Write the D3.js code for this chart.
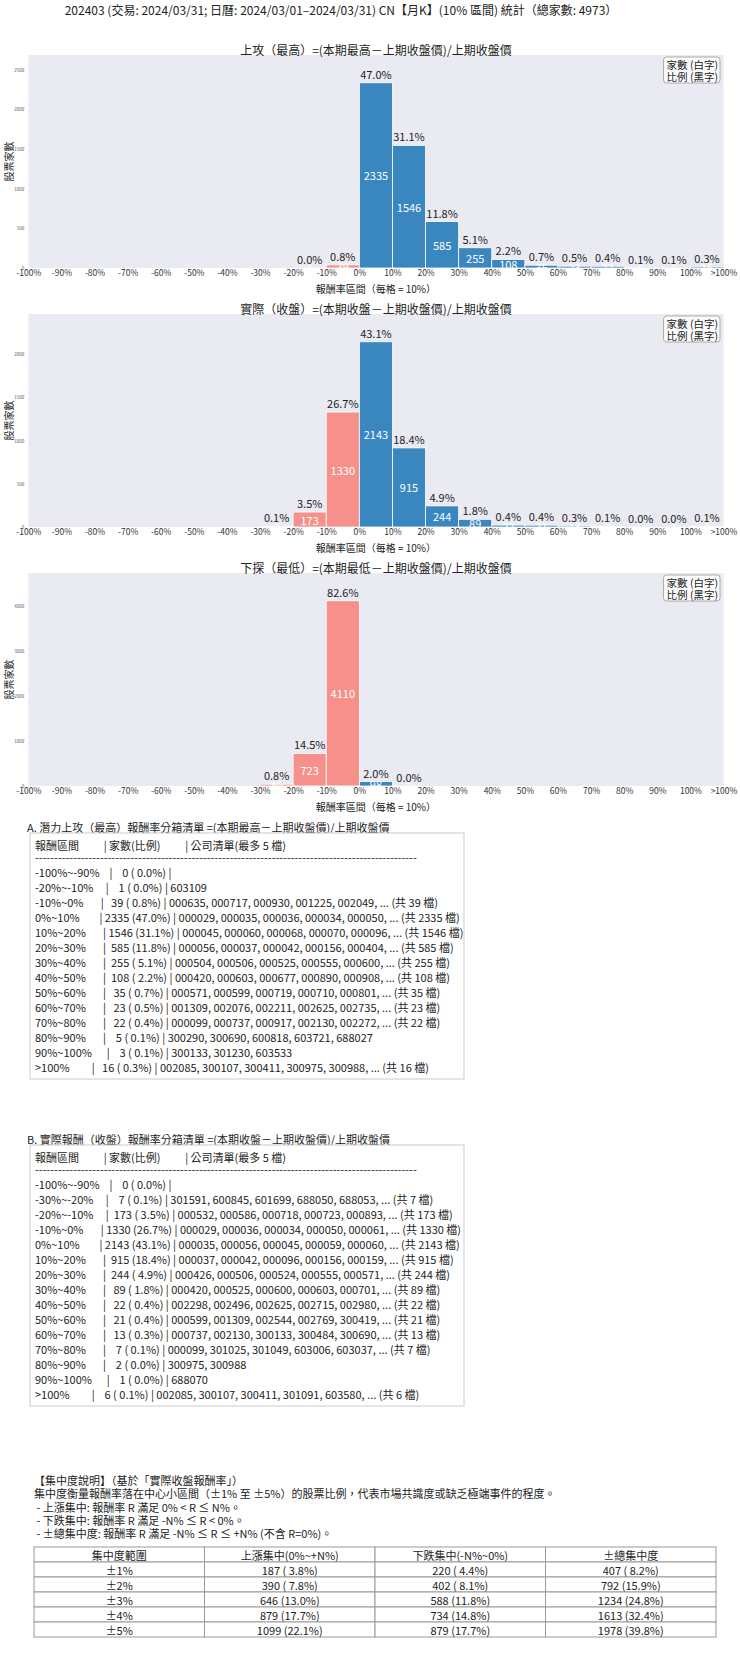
<!DOCTYPE html>
<html>
<head>
<meta charset="utf-8">
<script src="https://cdn.jsdelivr.net/npm/d3@7"></script>
<style>
body { margin: 0; background: #fff; }
text { font-family: "Noto Sans CJK TC", "Noto Sans CJK SC", sans-serif; }
</style>
</head>
<body>
<div id="chart"></div>
<script>
const total = 4973;
const suptitle = "202403 (交易: 2024/03/31; 日曆: 2024/03/01–2024/03/31) CN【月K】(10% 區間) 統計（總家數: 4973）";

const binLabels = ["-100%~-90%", "-90%~-80%", "-80%~-70%", "-70%~-60%", "-60%~-50%", "-50%~-40%",
  "-40%~-30%", "-30%~-20%", "-20%~-10%", "-10%~0%", "0%~10%", "10%~20%", "20%~30%", "30%~40%",
  "40%~50%", "50%~60%", "60%~70%", "70%~80%", "80%~90%", "90%~100%", ">100%"];
const tickLabels = ["-100%", "-90%", "-80%", "-70%", "-60%", "-50%", "-40%", "-30%", "-20%", "-10%",
  "0%", "10%", "20%", "30%", "40%", "50%", "60%", "70%", "80%", "90%", "100%", ">100%"];

const highCounts  = [0, 0, 0, 0, 0, 0, 0, 0, 1, 39, 2335, 1546, 585, 255, 108, 35, 23, 22, 5, 3, 16];
const closeCounts = [0, 0, 0, 0, 0, 0, 0, 7, 173, 1330, 2143, 915, 244, 89, 22, 21, 13, 7, 2, 1, 6];
const lowCounts   = [0, 0, 0, 0, 0, 0, 0, 40, 723, 4110, 98, 2, 0, 0, 0, 0, 0, 0, 0, 0, 0];

const highCodes = [[], [], [], [], [], [], [], [],
  ["603109"],
  ["000635", "000717", "000930", "001225", "002049"],
  ["000029", "000035", "000036", "000034", "000050"],
  ["000045", "000060", "000068", "000070", "000096"],
  ["000056", "000037", "000042", "000156", "000404"],
  ["000504", "000506", "000525", "000555", "000600"],
  ["000420", "000603", "000677", "000890", "000908"],
  ["000571", "000599", "000719", "000710", "000801"],
  ["001309", "002076", "002211", "002625", "002735"],
  ["000099", "000737", "000917", "002130", "002272"],
  ["300290", "300690", "600818", "603721", "688027"],
  ["300133", "301230", "603533"],
  ["002085", "300107", "300411", "300975", "300988"]];

const closeCodes = [[], [], [], [], [], [], [],
  ["301591", "600845", "601699", "688050", "688053"],
  ["000532", "000586", "000718", "000723", "000893"],
  ["000029", "000036", "000034", "000050", "000061"],
  ["000035", "000056", "000045", "000059", "000060"],
  ["000037", "000042", "000096", "000156", "000159"],
  ["000426", "000506", "000524", "000555", "000571"],
  ["000420", "000525", "000600", "000603", "000701"],
  ["002298", "002496", "002625", "002715", "002980"],
  ["000599", "001309", "002544", "002769", "300419"],
  ["000737", "002130", "300133", "300484", "300690"],
  ["000099", "301025", "301049", "603006", "603037"],
  ["300975", "300988"],
  ["688070"],
  ["002085", "300107", "300411", "301091", "603580"]];

const concRanges = ["±1%", "±2%", "±3%", "±4%", "±5%"];
const concUp    = [187, 390, 646, 879, 1099];
const concDown  = [220, 402, 588, 734, 879];
const concTotal = [407, 792, 1234, 1613, 1978];
const concHeader = ["集中度範圍", "上漲集中(0%~+N%)", "下跌集中(-N%~0%)", "±總集中度"];
const concNotes = [
  "【集中度說明】（基於「實際收盤報酬率」）",
  "集中度衡量報酬率落在中心小區間（±1% 至 ±5%）的股票比例，代表市場共識度或缺乏極端事件的程度。",
  " - 上漲集中: 報酬率 R 滿足 0% < R ≤ N%。",
  " - 下跌集中: 報酬率 R 滿足 -N% ≤ R < 0%。",
  " - ±總集中度: 報酬率 R 滿足 -N% ≤ R ≤ +N% (不含 R=0%)。"
];

const panels = [
  {title: "上攻（最高）=(本期最高－上期收盤價)/上期收盤價", counts: highCounts, top: 55},
  {title: "實際（收盤）=(本期收盤－上期收盤價)/上期收盤價", counts: closeCounts, top: 314},
  {title: "下探（最低）=(本期最低－上期收盤價)/上期收盤價", counts: lowCounts, top: 573}
];

const width = 740, height = 1660;
const plotL = 28.3, plotR = 723.5, plotH = 213;
const blue = "#3a86bf", red = "#f5918a";
const pct = c => (c / total * 100).toFixed(1);

const svg = d3.select("#chart").append("svg")
  .attr("width", width)
  .attr("height", height);

svg.append("text")
  .attr("x", 341).attr("y", 9)
  .attr("text-anchor", "middle").attr("dominant-baseline", "central")
  .attr("font-size", 12).attr("fill", "#222")
  .text(suptitle);

const xBand = d3.scaleBand().domain(binLabels).range([plotL, plotR]).padding(0);
const xEdge = d3.scaleLinear().domain([0, binLabels.length]).range([plotL, plotR]);

panels.forEach((p, pi) => {
  const base = p.top + plotH;
  const y = d3.scaleLinear().domain([0, d3.max(p.counts) * 1.15]).range([base, p.top]);
  const g = svg.append("g");

  g.append("rect")
    .attr("x", plotL).attr("y", p.top)
    .attr("width", plotR - plotL).attr("height", plotH)
    .attr("fill", "#eaeaf2");

  const clipId = "clip" + pi;
  g.append("clipPath").attr("id", clipId)
    .append("rect")
    .attr("x", plotL).attr("y", p.top)
    .attr("width", plotR - plotL).attr("height", plotH);

  g.append("text")
    .attr("x", (plotL + plotR) / 2).attr("y", p.top - 6)
    .attr("text-anchor", "middle").attr("dominant-baseline", "central")
    .attr("font-size", 12).attr("fill", "#222")
    .text(p.title);

  const data = p.counts.map((c, i) => ({bin: binLabels[i], c: c, i: i}));

  g.selectAll(".bar").data(data).join("rect")
    .attr("class", "bar")
    .attr("x", d => xBand(d.bin))
    .attr("y", d => y(d.c))
    .attr("width", xBand.bandwidth())
    .attr("height", d => base - y(d.c))
    .attr("fill", d => d.i < 10 ? red : blue)
    .attr("stroke", "#fff")
    .attr("stroke-width", 0.8);

  const nz = data.filter(d => d.c > 0);

  g.append("g").attr("clip-path", `url(#${clipId})`)
    .selectAll("text").data(nz).join("text")
    .attr("x", d => xBand(d.bin) + xBand.bandwidth() / 2)
    .attr("y", d => y(d.c / 2))
    .attr("text-anchor", "middle").attr("dominant-baseline", "central")
    .attr("font-size", 11).attr("fill", "#fff")
    .text(d => d.c);

  g.selectAll(".pct").data(nz).join("text")
    .attr("class", "pct")
    .attr("x", d => xBand(d.bin) + xBand.bandwidth() / 2)
    .attr("y", d => y(d.c) - 4)
    .attr("text-anchor", "middle")
    .attr("font-size", 11).attr("fill", "#222")
    .text(d => pct(d.c) + "%");

  // x axis: labels sit on the bin edges
  const xAxis = g.append("g")
    .attr("transform", `translate(0,${base})`)
    .call(d3.axisBottom(xEdge).tickValues(d3.range(tickLabels.length))
      .tickFormat(i => tickLabels[i]).tickSize(0).tickPadding(2));
  xAxis.select(".domain").remove();
  xAxis.selectAll("text").attr("font-size", 8.5).attr("fill", "#333")
    .attr("font-family", "Noto Sans CJK TC");

  const yAxis = g.append("g")
    .attr("transform", `translate(${plotL},0)`)
    .call(d3.axisLeft(y).ticks(5).tickFormat(d3.format("d")).tickSize(0).tickPadding(4));
  yAxis.select(".domain").remove();
  yAxis.selectAll("text").attr("font-size", 4.5).attr("fill", "#555")
    .attr("font-family", "Noto Sans CJK TC");

  g.append("text")
    .attr("x", (plotL + plotR) / 2).attr("y", base + 20)
    .attr("text-anchor", "middle").attr("dominant-baseline", "central")
    .attr("font-size", 10).attr("fill", "#222")
    .text("報酬率區間（每格 = 10%）");

  g.append("text")
    .attr("transform", `translate(8,${p.top + plotH / 2}) rotate(-90)`)
    .attr("text-anchor", "middle").attr("dominant-baseline", "central")
    .attr("font-size", 10).attr("fill", "#222")
    .text("股票家數");

  // note box in the upper right
  const note = g.append("g");
  const box = note.append("rect")
    .attr("rx", 3)
    .attr("fill", "#fff").attr("fill-opacity", 0.85)
    .attr("stroke", "#999").attr("stroke-width", 0.8);
  const noteTexts = ["家數 (白字)", "比例 (黑字)"].map((t, k) =>
    note.append("text")
      .attr("x", 718).attr("y", p.top + 9 + k * 12.5)
      .attr("text-anchor", "end").attr("dominant-baseline", "central")
      .attr("font-size", 10.5).attr("fill", "#222")
      .text(t));
  const tw = d3.max(noteTexts, t => t.node().getComputedTextLength());
  box.attr("x", 718 - tw - 3).attr("y", p.top + 2)
    .attr("width", tw + 5).attr("height", 26);
});

function binRows(counts, codes) {
  const rows = [];
  counts.forEach((c, i) => {
    if (i !== 0 && c === 0) return;
    let s = binLabels[i].padEnd(14) + "| " + String(c).padStart(4) + " (" + pct(c).padStart(4) + "%) |";
    if (codes[i].length) {
      s += " " + codes[i].join(", ");
      if (c > codes[i].length) s += ", ... (共 " + c + " 檔)";
    }
    rows.push(s);
  });
  return rows;
}

function listBlock(heading, top, rows) {
  const g = svg.append("g");
  g.append("text")
    .attr("x", 27).attr("y", top - 6)
    .attr("dominant-baseline", "central")
    .attr("font-size", 11).attr("fill", "#222")
    .text(heading);
  g.append("rect")
    .attr("x", 30).attr("y", top)
    .attr("width", 434).attr("height", 39 + (rows.length - 1) * 15 + 12)
    .attr("fill", "#fff").attr("stroke", "#ccc").attr("stroke-width", 1);
  const lines = ["報酬區間" + " ".repeat(10) + "| 家數(比例)" + " ".repeat(10) + "| 公司清單(最多 5 檔)",
    "-".repeat(100)].concat(rows);
  const ys = [top + 11.5, top + 24].concat(rows.map((r, k) => top + 39 + k * 15));
  g.selectAll("text.row").data(lines).join("text")
    .attr("class", "row")
    .attr("xml:space", "preserve")
    .style("white-space", "pre")
    .attr("x", 35).attr("y", (d, k) => ys[k])
    .attr("dominant-baseline", "central")
    .attr("font-size", 11).attr("fill", "#222")
    .text(d => d);
}

listBlock("A. 潛力上攻（最高）報酬率分箱清單 =(本期最高－上期收盤價)/上期收盤價", 833, binRows(highCounts, highCodes));
listBlock("B. 實際報酬（收盤）報酬率分箱清單 =(本期收盤－上期收盤價)/上期收盤價", 1145, binRows(closeCounts, closeCodes));

// concentration notes
svg.append("g").selectAll("text").data(concNotes).join("text")
  .attr("xml:space", "preserve")
  .style("white-space", "pre")
  .attr("x", 34).attr("y", (d, k) => 1480 + k * 13.3)
  .attr("dominant-baseline", "central")
  .attr("font-size", 11).attr("fill", "#222")
  .text(d => d);

// concentration table
const tblX = d3.scaleBand().domain(d3.range(4)).range([34, 716]);
const tblY = d3.scaleBand().domain(d3.range(6)).range([1547, 1637]);
const fmt = v => v + " (" + pct(v).padStart(4) + "%)";
const tblRows = [concHeader].concat(concRanges.map((r, k) => [r, fmt(concUp[k]), fmt(concDown[k]), fmt(concTotal[k])]));
const tg = svg.append("g");
tblRows.forEach((row, r) => {
  row.forEach((cell, c) => {
    tg.append("rect")
      .attr("x", tblX(c)).attr("y", tblY(r))
      .attr("width", tblX.bandwidth()).attr("height", tblY.bandwidth())
      .attr("fill", "#fff").attr("stroke", "#999").attr("stroke-width", 1);
    tg.append("text")
      .attr("xml:space", "preserve")
      .style("white-space", "pre")
      .attr("x", tblX(c) + tblX.bandwidth() / 2)
      .attr("y", tblY(r) + tblY.bandwidth() / 2)
      .attr("text-anchor", "middle").attr("dominant-baseline", "central")
      .attr("font-size", 11).attr("fill", "#222")
      .text(cell);
  });
});
</script>
</body>
</html>
